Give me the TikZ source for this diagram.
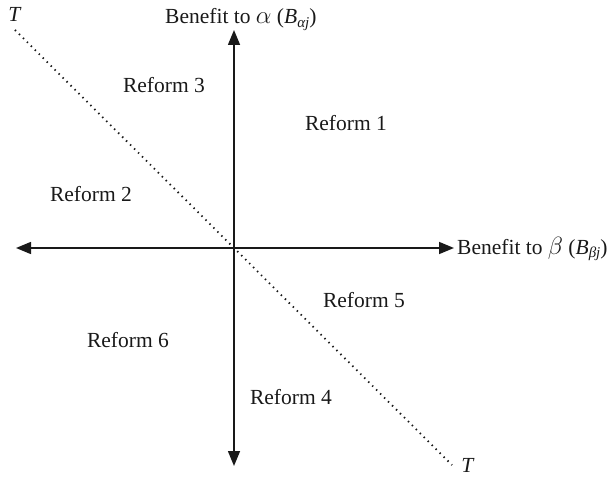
\documentclass[tikz,border=0pt]{standalone}
\usepackage{fontspec}
\setmainfont{Liberation Serif}
\usetikzlibrary{arrows.meta}
\newcommand{\bigsym}[1]{{\fontsize{26}{26}\selectfont$#1$}}
\newcommand{\subtxt}[1]{\raisebox{-3.5pt}{\fontsize{15}{15}\selectfont\itshape #1}}
\begin{document}
\begin{tikzpicture}[x=1pt,y=-1pt,
  lbl/.style={font=\fontsize{21.5}{25}\selectfont, inner sep=0pt, anchor=base, text=black!90},
  axisline/.style={line width=1.5pt, draw=black!90, -{Triangle[length=15pt,width=12pt]}},
  tline/.style={line width=1.8pt, dash pattern=on 1.4pt off 4.2pt, draw=black!90}]
\useasboundingbox (0,0) rectangle (613,478);
\coordinate (O) at (234,248);
\coordinate (top) at (234,30);
\coordinate (bot) at (234,466);
\coordinate (left) at (16,248);
\coordinate (right) at (454,248);
\coordinate (t1) at (15,30);
\coordinate (t2) at (452,465);
\draw[axisline] (O) -- (top);
\draw[axisline] (O) -- (bot);
\draw[axisline] (O) -- (left);
\draw[axisline] (O) -- (right);
\draw[tline] (t1) -- (t2);
\node[lbl] (ta) at (15,22) {\textit{T}};
\node[lbl] (tb) at (468,472) {\textit{T}};
\node[lbl, anchor=base west] (ya) at (165,24) {Benefit to \bigsym{\alpha} (\textit{B}\subtxt{αj})};
\node[lbl, anchor=west] (xa) at (457,249) {Benefit to \bigsym{\beta} (\textit{B}\subtxt{βj})};
\node[lbl] (r3) at (164,93) {Reform 3};
\node[lbl] (r1) at (346,131) {Reform 1};
\node[lbl] (r2) at (91,202) {Reform 2};
\node[lbl] (r5) at (364,308) {Reform 5};
\node[lbl] (r6) at (128,347) {Reform 6};
\node[lbl] (r4) at (291,404) {Reform 4};
\end{tikzpicture}
\end{document}
